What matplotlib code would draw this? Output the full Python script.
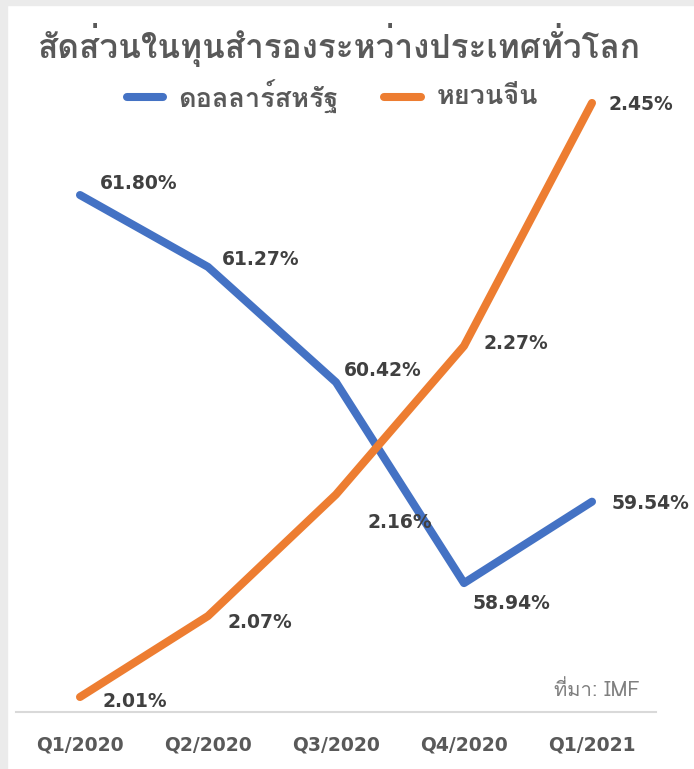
import matplotlib
matplotlib.use("Agg")
import matplotlib.pyplot as plt
from matplotlib import font_manager
from matplotlib.ft2font import FT2Font
from matplotlib.patches import Rectangle

categories = ["Q1/2020", "Q2/2020", "Q3/2020", "Q4/2020", "Q1/2021"]
usd = [61.80, 61.27, 60.42, 58.94, 59.54]
cny = [2.01, 2.07, 2.16, 2.27, 2.45]
usd_labels = ["61.80%", "61.27%", "60.42%", "58.94%", "59.54%"]
cny_labels = ["2.01%", "2.07%", "2.16%", "2.27%", "2.45%"]
title = "สัดส่วนในทุนสำรองระหว่างประเทศทั่วโลก"
series_names = ["ดอลลาร์สหรัฐ", "หยวนจีน"]
source = "ที่มา: IMF"

# find a font with Thai glyphs
thai_family = None
for fe in font_manager.fontManager.ttflist:
    try:
        cm = FT2Font(fe.fname).get_charmap()
    except Exception:
        continue
    if 0x0E2A in cm and 0x0E14 in cm:
        thai_family = fe.name
        break
fam = [thai_family, "DejaVu Sans"] if thai_family else ["DejaVu Sans"]
plt.rcParams["font.family"] = fam

W, H = 694, 769
fig = plt.figure(figsize=(W / 100, H / 100), dpi=100)
fig.patch.set_facecolor("white")
fig.add_artist(Rectangle((0, 0), 7 / W, 1, transform=fig.transFigure, color="#ebebeb", zorder=0))
fig.add_artist(Rectangle((0, 1 - 5 / H), 1, 5 / H, transform=fig.transFigure, color="#ebebeb", zorder=0))

def fx(px):
    return px / W

def fy(py):
    return 1 - py / H

left, right, top, bottom = 16, 656, 90, 712
ax = fig.add_axes([fx(left), fy(bottom), fx(right) - fx(left), (bottom - top) / H])
ax2 = ax.twinx()
x = list(range(len(categories)))
ax.plot(x, usd, color="#4472C4", lw=5.8, solid_capstyle="round", zorder=3)
ax2.plot(x, cny, color="#ED7D31", lw=5.8, solid_capstyle="round", zorder=3)
ax.set_xlim(-0.5, 4.5)
ax.set_ylim(57.99, 62.574)
ax2.set_ylim(1.9989, 2.4596)
for a in (ax, ax2):
    a.set_facecolor("none")
    for s in a.spines.values():
        s.set_visible(False)
    a.set_yticks([])
ax.spines["bottom"].set_visible(True)
ax.spines["bottom"].set_color("#d9d9d9")
ax.spines["bottom"].set_linewidth(1.5)
ax.set_xticks(x)
ax.set_xticklabels(categories, fontsize=13.5, fontweight="bold", color="#595959", family="DejaVu Sans")
ax.tick_params(axis="x", length=0, pad=17)

lab_kw = dict(fontsize=13.5, fontweight="bold", color="#404040", family="DejaVu Sans")
usd_off = [(14, 8), (10, 5), (6, 8.5), (6, -15), (14, -1)]
cny_off = [(16, -3), (14, -5), (22.5, -20.5), (14, 1.5), (12, -1)]
for i in x:
    ax.annotate(usd_labels[i], (i, usd[i]), xytext=usd_off[i], textcoords="offset points",
                ha="left", va="center", **lab_kw)
    ax2.annotate(cny_labels[i], (i, cny[i]), xytext=cny_off[i], textcoords="offset points",
                 ha="left", va="center", **lab_kw)

fig.text(fx(339), fy(45), title, ha="center", va="center", fontsize=24, fontweight="bold", color="#595959")
fig.add_artist(plt.Line2D([fx(127), fx(163)], [fy(97), fy(97)], color="#4472C4", lw=5.8, solid_capstyle="round"))
fig.text(fx(178), fy(97), series_names[0], ha="left", va="center", fontsize=19.5, fontweight="bold", color="#595959")
fig.add_artist(plt.Line2D([fx(384), fx(421)], [fy(97), fy(97)], color="#ED7D31", lw=5.8, solid_capstyle="round"))
fig.text(fx(437), fy(97), series_names[1], ha="left", va="center", fontsize=19.5, fontweight="bold", color="#595959")
fig.text(fx(640), fy(690), source, ha="right", va="center", fontsize=14.5, color="#7f7f7f")

fig.savefig("out.png", dpi=100)
